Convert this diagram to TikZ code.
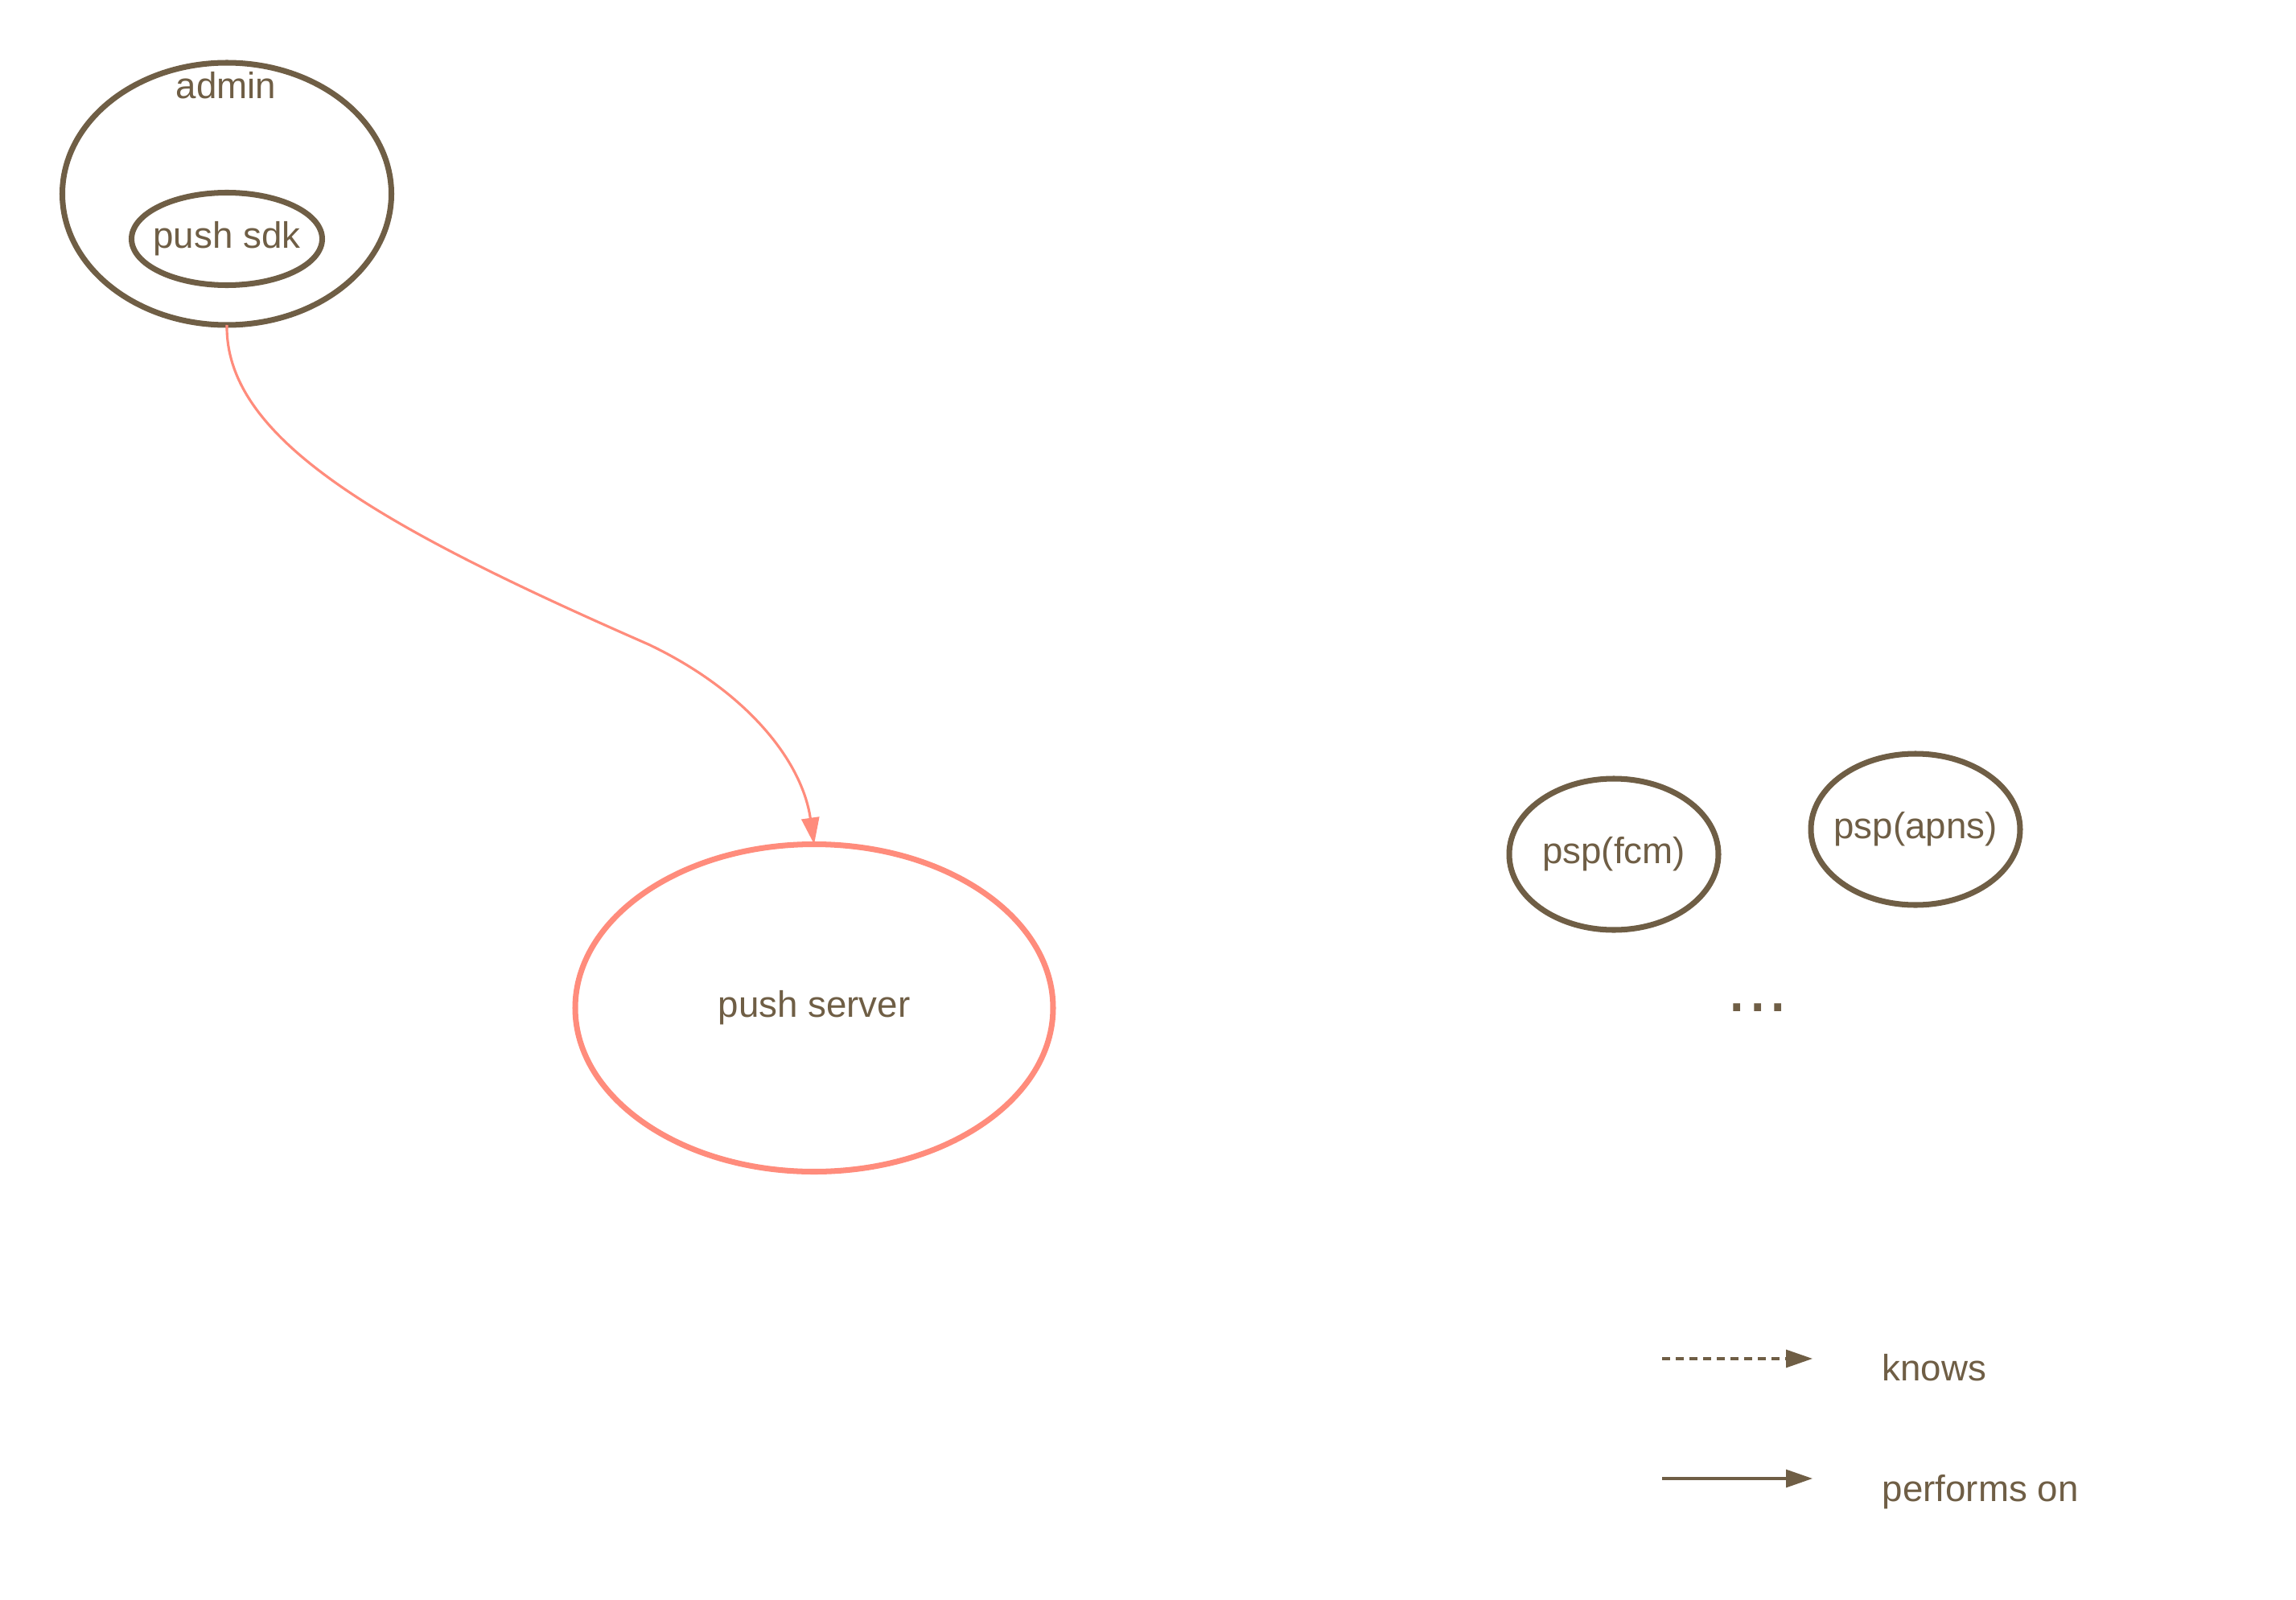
\documentclass[tikz,border=0pt]{standalone}
\usepackage{fontspec}
\setmainfont{Liberation Sans}
\usepackage{xcolor}
\usepackage{tikz}
\usetikzlibrary{shapes.geometric, arrows.meta, positioning}
\definecolor{bark}{HTML}{6F5E45}
\definecolor{salmon}{HTML}{FF8C7C}
\tikzset{
  actor/.style={ellipse, draw=bark, line width=2pt, text=bark, inner sep=0pt, outer sep=0pt,
                font=\fontsize{13}{15}\selectfont},
  server/.style={ellipse, draw=salmon, line width=2pt, text=bark, inner sep=0pt, outer sep=0pt,
                 font=\fontsize{13}{15}\selectfont},
  title/.style={text=bark, inner sep=0pt, font=\fontsize{13}{15}\selectfont},
  legendtext/.style={text=bark, inner sep=0pt, anchor=base west, font=\fontsize{13}{15}\selectfont},
  performs/.style={-{Triangle[length=0.33cm, width=0.22cm]}, line width=0.9pt},
  knows/.style={performs, dash pattern=on 0.1cm off 0.07cm},
}
\begin{document}
\begin{tikzpicture}
  \useasboundingbox (0,0) rectangle (28.54,-19.89);
  \node[actor, minimum width=4.09cm, minimum height=3.26cm] (admin) at (2.82,-2.41) {};
  \node[title] (admintitle) at (2.81,-1.06) {admin};
  \node[actor, minimum width=2.37cm, minimum height=1.15cm, inner xsep=-2mm] (sdk) at (2.82,-2.97) {push sdk};
  \node[server, minimum width=5.94cm, minimum height=4.07cm] (server) at (10.12,-12.53) {push server};
  \node[actor, minimum width=2.60cm, minimum height=1.88cm] (fcm) at (20.06,-10.62) {psp(fcm)};
  \node[actor, minimum width=2.60cm, minimum height=1.88cm, inner xsep=-2mm] (apns) at (23.81,-10.31) {psp(apns)};
  \node[title, font=\fontsize{26}{30}\selectfont] (more) at (21.85,-12.53) {...};

  % legend
  \coordinate (knowsA) at (20.66,-16.89);
  \coordinate (knowsB) at (22.53,-16.89);
  \coordinate (perfA) at (20.66,-18.38);
  \coordinate (perfB) at (22.53,-18.38);
  \draw[knows, bark] (knowsA) -- (knowsB);
  \draw[performs, bark] (perfA) -- (perfB);
  \node[legendtext] (knowslabel) at (23.39,-17.16) {knows};
  \node[legendtext] (perflabel) at (23.39,-18.66) {performs on};

  \draw[performs, salmon] (admin.south) .. controls (2.80,-5.46) and (4.73,-6.55) .. (8.06,-8.01)
    .. controls (9.28,-8.59) and (9.97,-9.46) .. (server.north);
\end{tikzpicture}
\end{document}
